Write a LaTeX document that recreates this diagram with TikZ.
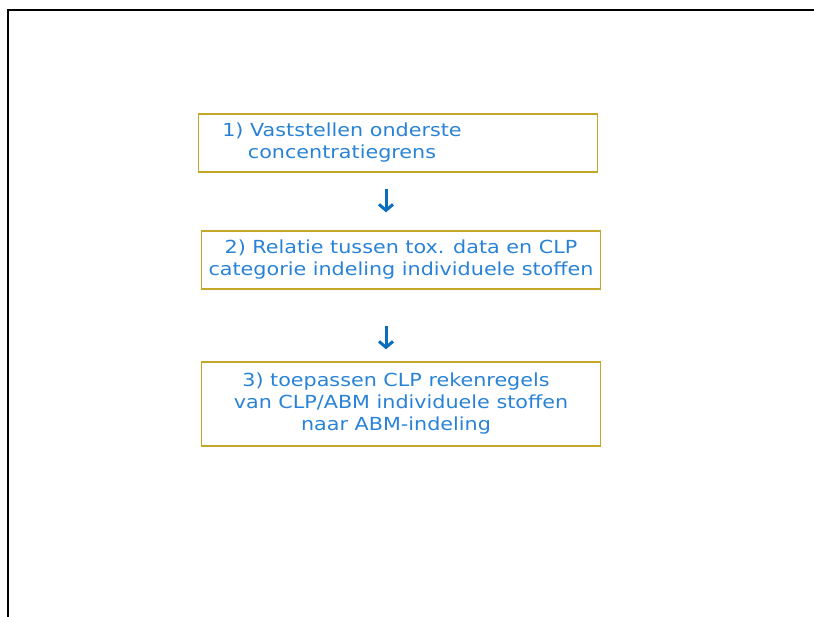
\documentclass[tikz,border=0pt]{standalone}
\usepackage{fontspec}
\setmainfont[FakeStretch=1.15]{DejaVu Sans}
\usetikzlibrary{arrows.meta}
\definecolor{boxline}{RGB}{196,166,40}
\definecolor{boxtext}{RGB}{40,130,215}
\definecolor{arrowblue}{RGB}{10,110,190}
\tikzstyle{stepbox} = [rectangle, draw=boxline, line width=1.3pt, text=boxtext, align=center, font=\fontsize{18}{22}\selectfont, minimum width=399pt, inner sep=0pt]
\tikzstyle{flow} = [arrowblue, line width=3pt, -{Straight Barb[length=6pt,width=14pt]}]

\begin{document}
\begin{tikzpicture}[x=1pt,y=-1pt]
    \useasboundingbox (0,0) rectangle (814,617);
    \draw[line width=1.5pt] (8,625) -- (8,10) -- (820,10);

    \node(step1)[stepbox, minimum height=58pt] at (398,143) {1) Vaststellen onderste\hspace*{112pt}\\concentratiegrens\hspace*{112pt}};
    \node(step2)[stepbox, minimum height=58pt] at (401,260) {2) Relatie tussen tox. data en CLP\\categorie indeling individuele stoffen};
    \node(step3)[stepbox, minimum height=84pt] at (401,404) {3) toepassen CLP rekenregels\hspace*{10pt}\\van CLP/ABM individuele stoffen\\naar ABM-indeling\hspace*{10pt}};

    \draw[flow, shorten <=16pt, shorten >=18pt] ([xshift=-12pt]step1.south) -- ([xshift=-15pt]step2.north);
    \draw[flow, shorten <=36pt, shorten >=12pt] ([xshift=-15pt]step2.south) -- ([xshift=-15pt]step3.north);

\end{tikzpicture}
\end{document}
